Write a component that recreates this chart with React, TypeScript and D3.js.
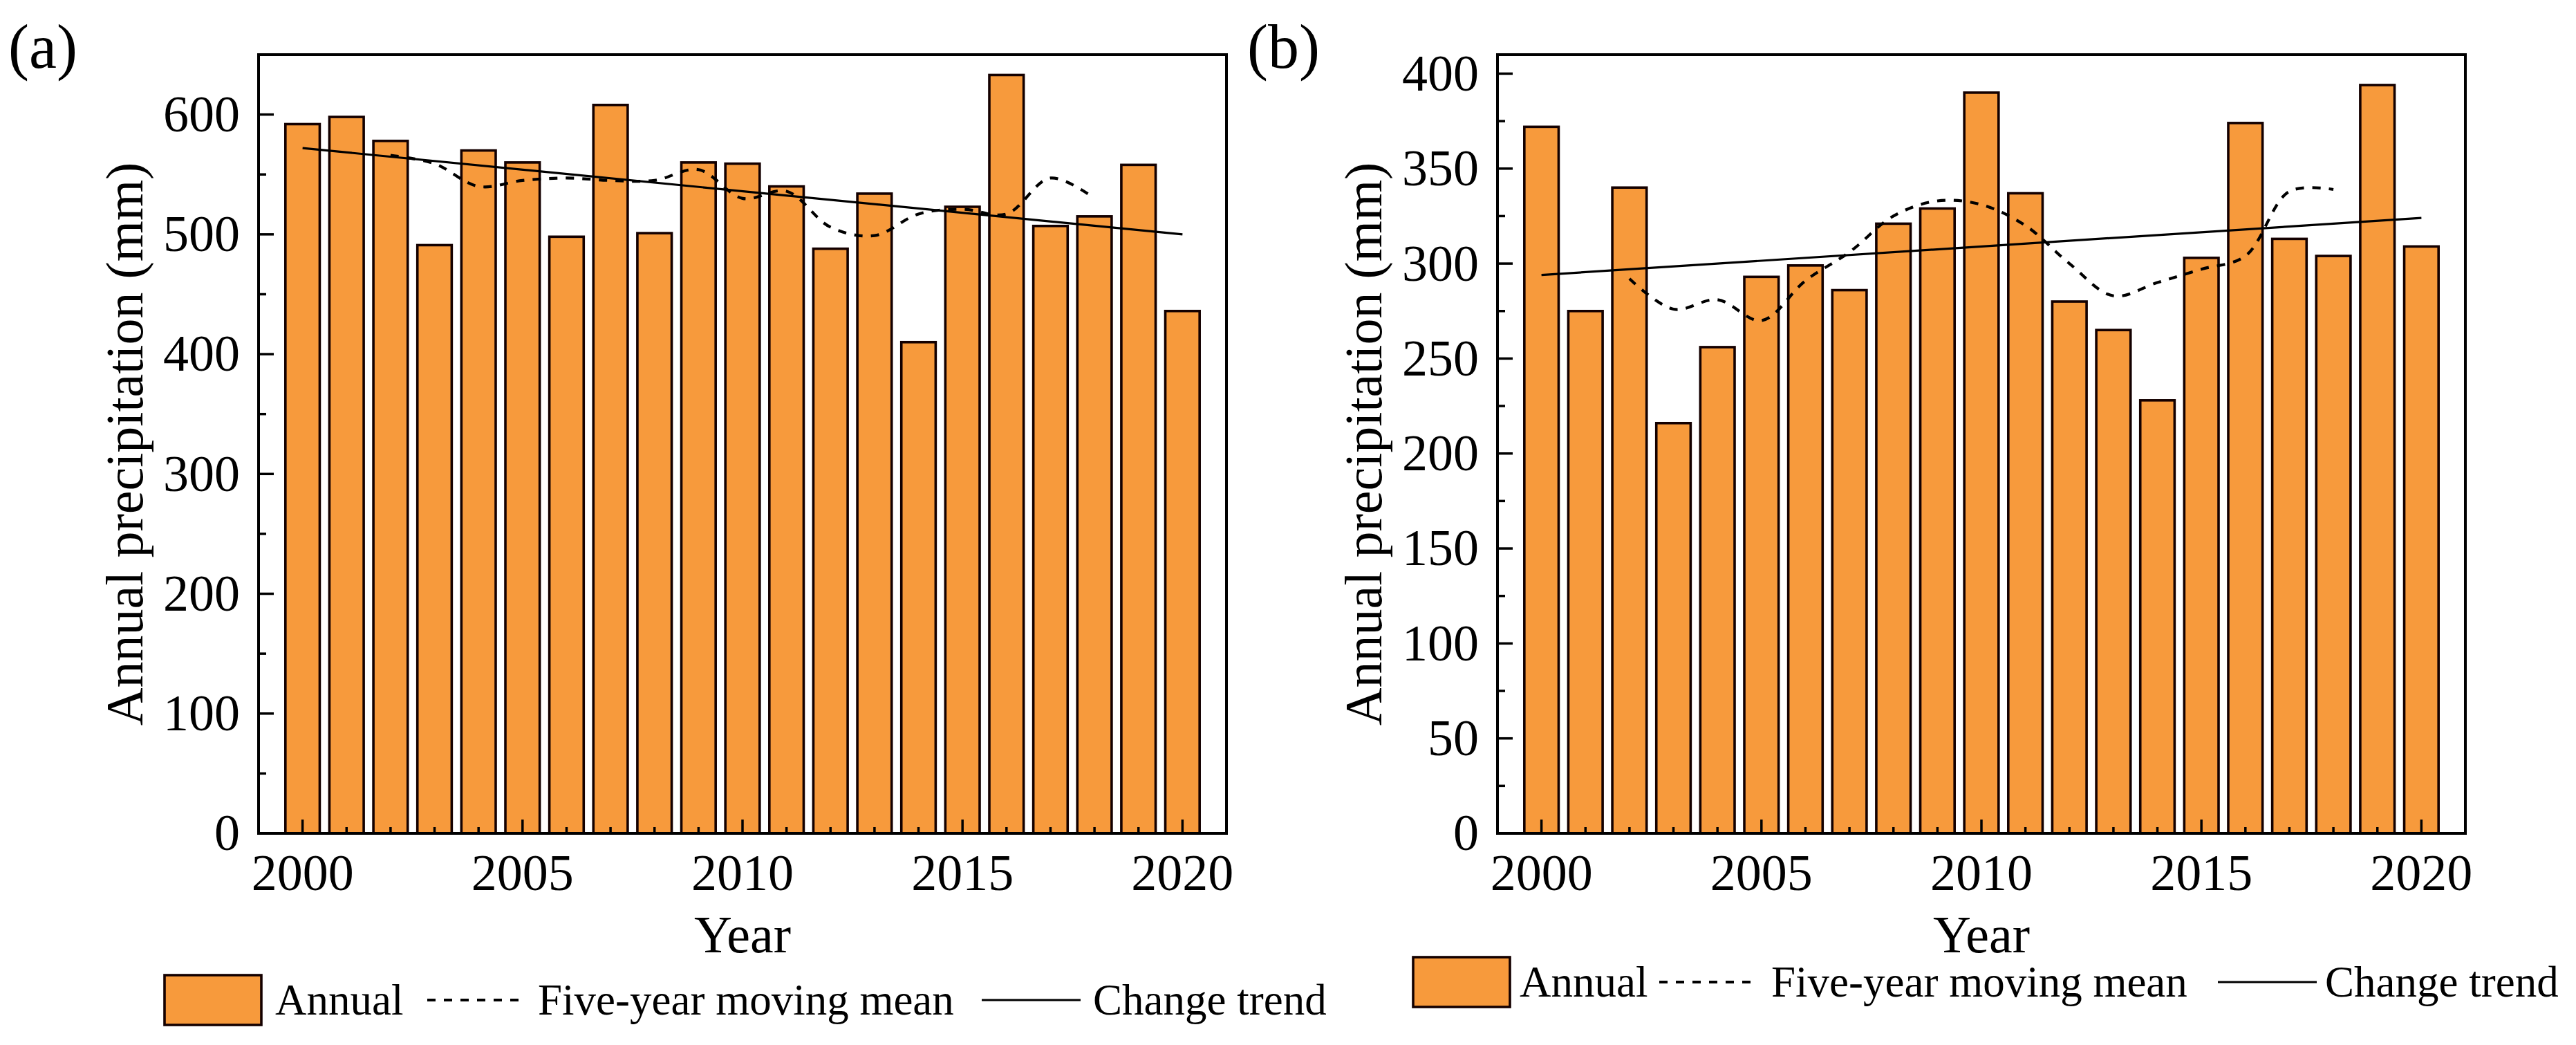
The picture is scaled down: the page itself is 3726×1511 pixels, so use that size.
import * as React from 'react'
import * as d3 from 'd3'

// years on the x axis
const years = [2000, 2001, 2002, 2003, 2004, 2005, 2006, 2007, 2008, 2009, 2010,
	2011, 2012, 2013, 2014, 2015, 2016, 2017, 2018, 2019, 2020]
const meanYears = [2002, 2003, 2004, 2005, 2006, 2007, 2008, 2009, 2010,
	2011, 2012, 2013, 2014, 2015, 2016, 2017, 2018]
const trendYears = [2000, 2020]
const xMajorTicks = [2000, 2005, 2010, 2015, 2020]

// panel (a)
const annualA = [592, 598, 578, 491, 570, 560, 498, 608, 501, 560, 559, 540, 488, 534, 410, 523, 633, 507, 515, 558, 436]
const meanA = [566, 559, 540, 545, 547, 545, 545, 554, 530, 536, 506, 499, 517, 521, 517, 547, 530]
const trendA = [572, 500]
const yTicksA = [0, 100, 200, 300, 400, 500, 600]

// panel (b)
const annualB = [372, 275, 340, 216, 256, 293, 299, 286, 321, 329, 390, 337, 280, 265, 228, 303, 374, 313, 304, 394, 309]
const meanB = [292, 276, 281, 270, 291, 306, 325, 333, 331, 320, 300, 283, 290, 297, 304, 338, 339]
const trendB = [294, 324]
const yTicksB = [0, 50, 100, 150, 200, 250, 300, 350, 400]

const legendLabels = ['Annual', 'Five-year moving mean', 'Change trend']

const FONT = "'Liberation Serif', 'Times New Roman', Times, serif"
const ORANGE = '#F79A3C'

interface PanelProps {
	label: string
	left: number
	right: number
	top: number
	bottom: number
	yMax: number
	yTicks: number[]
	yMinorStep: number
	annual: number[]
	mean: number[]
	trend: number[]
	legend: { box: number; t1: number; dash: number; t2: number; solid: number; t3: number; cy: number }
}

const Panel: React.FC<PanelProps> = (p) => {
	const x = d3.scaleLinear().domain([1999, 2021]).range([p.left, p.right])
	const y = d3.scaleLinear().domain([0, p.yMax]).range([p.bottom, p.top])
	const step = x(2001) - x(2000)
	const barW = step * 0.78

	const minorY = d3.range(p.yMinorStep, p.yMax, p.yMinorStep).filter(v => !p.yTicks.includes(v))
	const minorX = years.filter(v => !xMajorTicks.includes(v))

	const meanLine = d3.line<number>()
		.x((_, i) => x(meanYears[i]))
		.y(d => y(d))
		.curve(d3.curveCatmullRom.alpha(0.5))
	const trendLine = d3.line<number>()
		.x((_, i) => x(trendYears[i]))
		.y(d => y(d))

	const lg = p.legend
	return (
		<g style={{ fontFamily: FONT }} fill="#000">
			<text x={p.left - 362} y={98} fontSize={90}>{p.label}</text>
			{years.map((yr, i) => (
				<rect key={yr} x={x(yr) - barW / 2} y={y(p.annual[i])} width={barW}
					height={y(0) - y(p.annual[i])} fill={ORANGE} stroke="#140000" strokeWidth={3.6} />
			))}
			<path d={meanLine(p.mean) || ''} fill="none" stroke="#000" strokeWidth={4.2}
				strokeDasharray="12 12" />
			<path d={trendLine(p.trend) || ''} fill="none" stroke="#000" strokeWidth={3.2} />
			<rect x={p.left} y={p.top} width={p.right - p.left} height={p.bottom - p.top}
				fill="none" stroke="#000" strokeWidth={4} />
			{p.yTicks.map(v => (
				<g key={v}>
					<line x1={p.left} x2={p.left + 22} y1={y(v)} y2={y(v)} stroke="#000" strokeWidth={3.5} />
					<text x={p.left - 27} y={y(v)} dy="0.33em" fontSize={74} textAnchor="end">{v}</text>
				</g>
			))}
			{minorY.map(v => (
				<line key={v} x1={p.left} x2={p.left + 11} y1={y(v)} y2={y(v)} stroke="#000" strokeWidth={3.5} />
			))}
			{xMajorTicks.map(v => (
				<g key={v}>
					<line x1={x(v)} x2={x(v)} y1={p.bottom} y2={p.bottom - 20} stroke="#000" strokeWidth={3.5} />
					<text x={x(v)} y={p.bottom + 82} fontSize={74} textAnchor="middle">{v}</text>
				</g>
			))}
			{minorX.map(v => (
				<line key={v} x1={x(v)} x2={x(v)} y1={p.bottom} y2={p.bottom - 9} stroke="#000" strokeWidth={3.5} />
			))}
			<text x={(p.left + p.right) / 2} y={p.bottom + 172} fontSize={76} textAnchor="middle">Year</text>
			<text transform={`translate(${p.left - 168}, ${(p.top + p.bottom) / 2}) rotate(-90)`}
				fontSize={76} textAnchor="middle">Annual precipitation (mm)</text>

			<rect x={lg.box} y={lg.cy - 36} width={140} height={72} fill={ORANGE} stroke="#140000" strokeWidth={3.6} />
			<text x={lg.t1} y={lg.cy} dy="0.33em" fontSize={63}>{legendLabels[0]}</text>
			<line x1={lg.dash} x2={lg.dash + 143} y1={lg.cy} y2={lg.cy} stroke="#000" strokeWidth={4.2} strokeDasharray="12 12" />
			<text x={lg.t2} y={lg.cy} dy="0.33em" fontSize={63}>{legendLabels[1]}</text>
			<line x1={lg.solid} x2={lg.solid + 143} y1={lg.cy} y2={lg.cy} stroke="#000" strokeWidth={3.2} />
			<text x={lg.t3} y={lg.cy} dy="0.33em" fontSize={63}>{legendLabels[2]}</text>
		</g>
	)
}

const App: React.FC = () => {
	return (
		<svg width={3726} height={1511} style={{ position: 'absolute', left: 0, top: 0, background: '#fff', fontFamily: FONT }}>
			<rect width={3726} height={1511} fill="#fff" />
			<Panel label="(a)" left={374} right={1774} top={79} bottom={1205} yMax={650}
				yTicks={yTicksA} yMinorStep={50} annual={annualA} mean={meanA} trend={trendA}
				legend={{ box: 238, t1: 398, dash: 618, t2: 778, solid: 1420, t3: 1581, cy: 1446 }} />
			<Panel label="(b)" left={2166} right={3566} top={79} bottom={1205} yMax={410}
				yTicks={yTicksB} yMinorStep={25} annual={annualB} mean={meanB} trend={trendB}
				legend={{ box: 2044, t1: 2198, dash: 2400, t2: 2562, solid: 3208, t3: 3363, cy: 1420 }} />
		</svg>
	)
}

export default App
